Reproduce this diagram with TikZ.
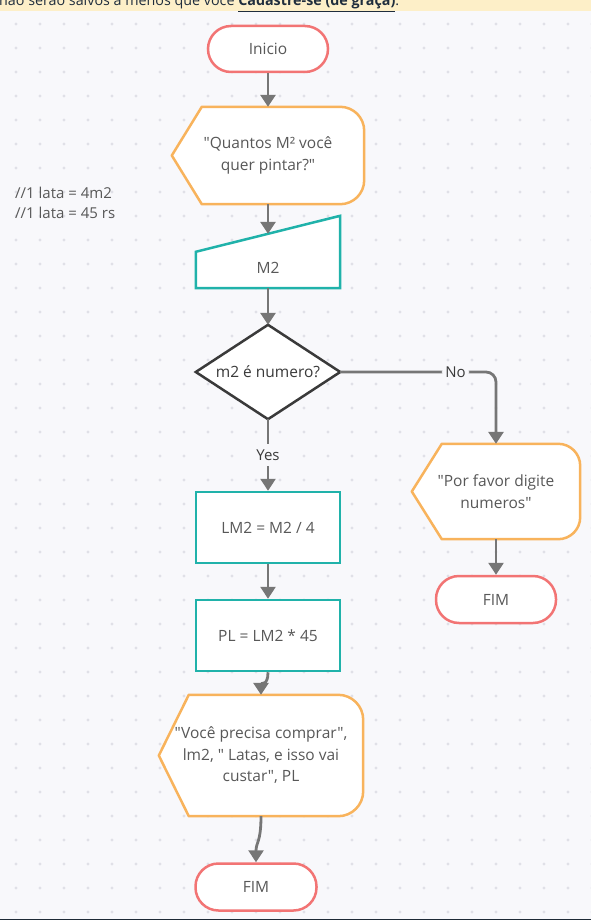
\documentclass[tikz,border=0pt]{standalone}
\usepackage{fontspec}
\setmainfont{Open Sans}[Ligatures=TeXOff]
\usetikzlibrary{arrows.meta,calc}
\pgfdeclarelayer{grid}
\pgfdeclarelayer{shapes}
\pgfsetlayers{grid,shapes,main}
\definecolor{bgc}{HTML}{F8F8FB}
\definecolor{dotc}{HTML}{E0E0E7}
\definecolor{bannerc}{HTML}{FDEFC8}
\definecolor{navy}{HTML}{1F2D3D}
\definecolor{darkc}{HTML}{1E2A36}
\definecolor{termc}{HTML}{F27474}
\definecolor{dispc}{HTML}{F8B35C}
\definecolor{procc}{HTML}{20B2AA}
\definecolor{decc}{HTML}{3A3A3A}
\definecolor{arrc}{HTML}{767676}
\definecolor{txtc}{HTML}{585858}
\definecolor{lblc}{HTML}{3A3A3A}
\newcommand{\dispshape}[2]{%
  \path[dispsty] ($(#1.north west)+(30,0)$) -- ($(#1.north east)+(-#2,0)$)
    .. controls ($(#1.north east)+(-0.448*#2,0)$) and ($(#1.north east)+(0,0.448*#2)$) .. ($(#1.north east)+(0,#2)$)
    -- ($(#1.south east)+(0,-#2)$)
    .. controls ($(#1.south east)+(0,-0.448*#2)$) and ($(#1.south east)+(-0.448*#2,0)$) .. ($(#1.south east)+(-#2,0)$)
    -- ($(#1.south west)+(30,0)$) -- (#1.west) -- cycle;}
\begin{document}
\begin{tikzpicture}[x=1pt,y=-1pt,
  base/.style={font=\fontsize{15.5}{21.5}\selectfont, text=txtc, align=center, inner sep=0pt},
  term/.style={base, draw=termc, line width=2.5pt, fill=white, rounded corners=23pt, minimum width=120pt, minimum height=46pt},
  proc/.style={base, draw=procc, line width=2.5pt, fill=white, minimum width=144pt, minimum height=71pt},
  dispsty/.style={draw=dispc, line width=2.5pt, fill=white, line join=round},
  manusty/.style={draw=procc, line width=2.5pt, fill=white},
  decsty/.style={draw=decc, line width=2.5pt, fill=white, line join=miter},
  arr/.style={draw=arrc, line width=2.8pt, -{Triangle[length=12pt,width=15pt]}},
  lbl/.style={font=\fontsize{15}{18}\selectfont, text=lblc, fill=bgc, inner xsep=3.5pt, inner ysep=3pt},
  cmt/.style={font=\fontsize{15}{20.6}\selectfont, text=txtc, align=left, inner sep=0pt, anchor=west},
]
\useasboundingbox (0,0) rectangle (591,920);
\begin{pgfonlayer}{grid}
  \fill[bgc] (0,0) rectangle (591,920);
  \foreach \x in {16,40,...,592} {
    \foreach \y in {24,48,...,912} {
      \fill[dotc] (\x,\y) circle[radius=1.6pt];
    }
  }
  \fill[bannerc] (0,0) rectangle (591,11.5);
  \fill[darkc] (0,918.5) rectangle (591,920);
\end{pgfonlayer}

\node[anchor=base west, inner sep=0pt, font=\fontsize{14.3}{16}\selectfont, text=navy] (ban) at (-1,6) {não serão salvos a menos que você \textbf{\underline{Cadastre-se (de graça)}}.};

\node[cmt] (cmt) at (15,203) {//1 lata = 4m2\\//1 lata = 45 rs};

% nodes
\node[term] (ini) at (268,49) {Inicio};
\node[base, minimum width=192pt, minimum height=97pt] (q) at (268,155.5) {"Quantos M² você\\quer pintar?"};
\node[base, minimum width=144pt, minimum height=40pt] (m2) at (268,268) {M2};
\coordinate (m2in) at ($(m2.north)+(0,-14)$);
\node[base, text=decc, minimum width=144pt, minimum height=94pt] (dec) at (268,372) {m2 é numero?};
\node[proc] (lm2) at (268,527.5) {LM2 = M2 / 4};
\node[proc] (pl) at (268,635.5) {PL = LM2 * 45};
\node[base, minimum width=204pt, minimum height=121pt] (out3) at (261,755.5) {"Você precisa comprar",\\lm2, " Latas, e isso vai\\custar", PL};
\node[term, minimum width=121pt, minimum height=47pt] (fim3) at (256,887) {FIM};
\node[base, minimum width=168pt, minimum height=95pt] (por) at (496,491.5) {"Por favor digite\\numeros"};
\node[term, minimum height=47pt] (fim2) at (496,599.5) {FIM};

% shapes
\begin{pgfonlayer}{shapes}
  \dispshape{q}{24}
  \dispshape{por}{22}
  \dispshape{out3}{25}
  \path[manusty] (m2.south west) -- ($(m2.north west)+(0,4)$) -- ($(m2.north east)+(0,-32)$) -- (m2.south east) -- cycle;
  \path[decsty] (dec.north) -- (dec.east) -- (dec.south) -- (dec.west) -- cycle;
\end{pgfonlayer}

% connectors
\draw[arr] (ini.south) -- (q.north);
\draw[arr] (q.south) -- (m2in);
\draw[arr] (m2.south) -- (dec.north);
\draw[arr] (dec.south) -- node[lbl, inner ysep=6pt, pos=0.5] (yes) {Yes} (lm2.north);
\draw[arr, rounded corners=10pt] (dec.east) -| node[lbl, pos=0.37] (no) {No} (por.north);
\draw[arr] (por.south) -- (fim2.north);
\draw[arr] (lm2.south) -- (pl.north);
\draw[arr] (pl.south) .. controls +(0,14) and +(0,-12) .. (out3.north);
\draw[arr] (out3.south) .. controls +(0,26) and +(0,-20) .. (fim3.north);
\end{tikzpicture}
\end{document}
